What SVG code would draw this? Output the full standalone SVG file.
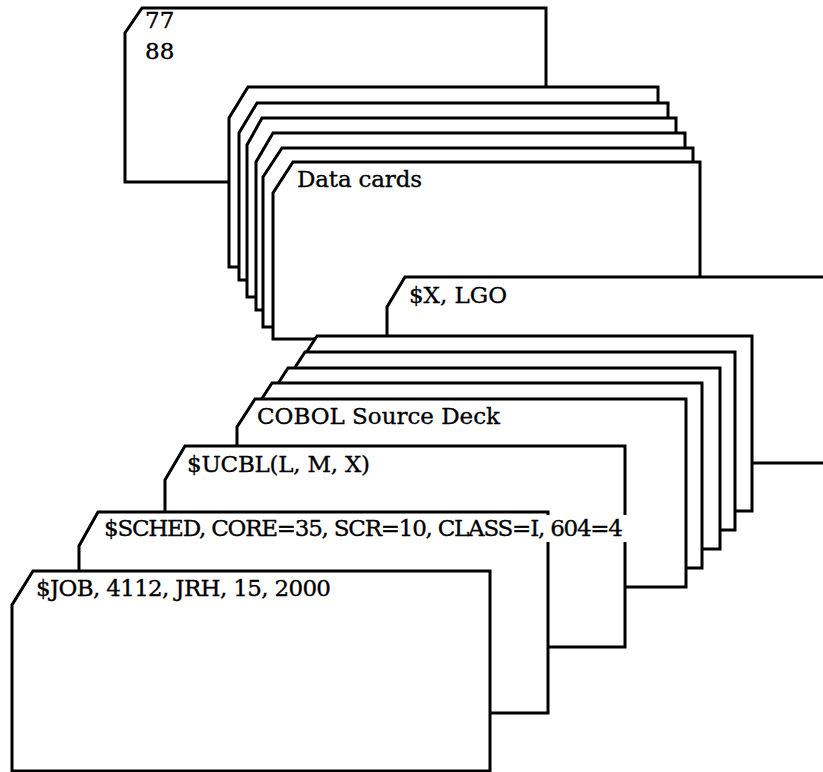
<svg xmlns="http://www.w3.org/2000/svg" width="823" height="772" viewBox="0 0 823 772">
<style>
.card{fill:#fff;stroke:#000;stroke-width:3;stroke-linejoin:miter}
.t{font-family:"DejaVu Serif","Liberation Serif",serif;font-size:23px;fill:#000;stroke:#000;stroke-width:0.35}
</style>
<rect width="823" height="772" fill="#fff"/>
<g id="card-77-88">
<path class="card" d="M142 8 H546 V182 H125 V33 Z"/>
<text class="t" x="145" y="28">77</text>
<text class="t" x="145" y="59">88</text>
</g>
<g id="data-card-1"><path class="card" d="M248 87 H658 V267 H229 V118 Z"/></g>
<g id="data-card-2"><path class="card" d="M257 103 H668 V280 H239 V133 Z"/></g>
<g id="data-card-3"><path class="card" d="M262 118 H676 V297 H247 V145 Z"/></g>
<g id="data-card-4"><path class="card" d="M273 133 H685 V310 H256 V162 Z"/></g>
<g id="data-card-5"><path class="card" d="M282 148 H693 V327 H263 V177 Z"/></g>
<g id="data-cards">
<path class="card" d="M293 162 H700 V339 H273 V193 Z"/>
<text class="t" x="297" y="187" textLength="125">Data cards</text>
</g>
<g id="x-lgo">
<path class="card" d="M405 277 H840 V463 H387 V307 Z"/>
<text class="t" x="409" y="303" textLength="98">$X, LGO</text>
</g>
<g id="cobol-card-1"><path class="card" d="M317 336 H752 V511 H299 V364 Z"/></g>
<g id="cobol-card-2"><path class="card" d="M305 352 H735 V530 H287 V380 Z"/></g>
<g id="cobol-card-3"><path class="card" d="M288 368 H720 V549 H270 V396 Z"/></g>
<g id="cobol-card-4"><path class="card" d="M272 383 H702 V568 H254 V411 Z"/></g>
<g id="cobol-source-deck">
<path class="card" d="M255 399 H686 V587 H237 V427 Z"/>
<text class="t" x="257" y="424" textLength="243">COBOL Source Deck</text>
</g>
<g id="ucbl">
<path class="card" d="M185 446 H625 V647 H165 V480 Z"/>
<text class="t" x="187" y="472" textLength="183">$UCBL(L, M, X)</text>
</g>
<g id="sched">
<path class="card" d="M98 512 H548 V713 H79 V546 Z"/>
<rect x="540" y="515" width="90" height="27" fill="#fff"/>
<text class="t" x="104" y="536" textLength="519">$SCHED, CORE=35, SCR=10, CLASS=I, 604=4</text>
</g>
<g id="job">
<path class="card" d="M33 571 H490 V771 H12 V605 Z"/>
<text class="t" x="36" y="596" textLength="295">$JOB, 4112, JRH, 15, 2000</text>
</g>
<g id="connectors"/>
</svg>
